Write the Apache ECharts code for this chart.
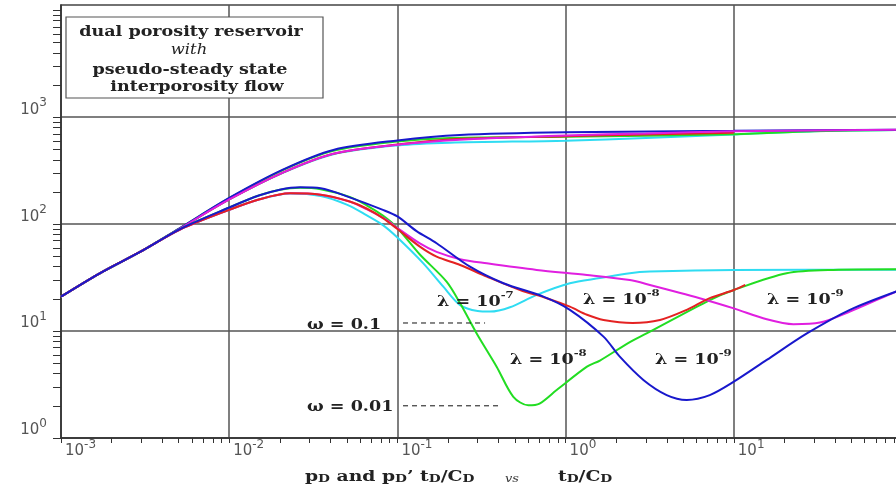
<!DOCTYPE html>
<html>
<head>
<meta charset="utf-8">
<script src="https://cdn.jsdelivr.net/npm/echarts@6/dist/echarts.min.js"></script>
<style>
  html, body { margin: 0; padding: 0; background: #ffffff; }
  #chart { width: 896px; height: 489px; }
</style>
</head>
<body>
<div id="chart"></div>
<script>
// Decade exponents that carry a "10^n" label on each axis
const xLabelExponents = [-3, -2, -1, 0, 1];
const yLabelExponents = [0, 1, 2, 3];
// Decades that get a grid line
const xGridExponents = [-3, -2, -1, 0, 1, 2];
// Decades that receive 2..9 log ticks
const xTickDecades = [-3, -2, -1, 0, 1];
const yTickDecades = [0, 1, 2, 3];

// Type-curve responses, [tD/CD, value] pairs
// omega = 0.1, lambda = 1e-7
const cyanPressure = [[1e-3,21],[1.7e-3,34.7],[2.95e-3,55],[5.1e-3,91],[0.01,170],[0.021,303],[0.0416,450],[0.1,545],[0.205,578],[1,603],[3,640],[10,690],[30,740],[100,760]];
const cyanDerivative = [[1e-3,21],[1.7e-3,34.7],[2.95e-3,55],[5.1e-3,89],[0.01,136],[0.015,170],[0.023,193],[0.035,183],[0.05,152],[0.065,122],[0.082,98],[0.1,75],[0.1426,43],[0.1875,26],[0.236,17.5],[0.3,15.4],[0.355,15.2],[0.467,16.7],[0.673,21.8],[1.06,28],[1.6,31.3],[2.41,34.8],[3.17,36],[10,37.3],[100,37.5]];
// omega = 0.01, lambda = 1e-8
const greenPressure = [[1e-3,21],[1.7e-3,34.7],[2.95e-3,55],[5.1e-3,92],[0.01,175],[0.021,322],[0.0416,485],[0.1,592],[0.205,640],[1,658],[3,672],[10,694],[30,740],[100,762]];
const greenDerivative = [[1e-3,21],[1.7e-3,34.7],[2.95e-3,55],[5.1e-3,90],[0.01,143],[0.015,185],[0.02,210],[0.0264,219],[0.035,212],[0.052,180],[0.0656,150],[0.082,120],[0.1,92],[0.136,52],[0.196,29],[0.236,18.2],[0.296,9.5],[0.389,4.65],[0.489,2.43],[0.6,2.02],[0.7,2.1],[0.885,2.81],[1.34,4.65],[1.6,5.3],[2.41,7.9],[3.03,9.5],[7.2,19.5],[10,24.2],[20.6,34.7],[39,37.3],[100,37.8]];
// omega = 0.1, lambda = 1e-8
const redPressure = [[1e-3,21],[1.7e-3,34.7],[2.95e-3,55],[5.1e-3,91],[0.01,170],[0.021,305],[0.0416,455],[0.1,556],[0.205,620],[1,662],[3,690],[10,715]];
const redDerivative = [[1e-3,21],[1.7e-3,34.7],[2.95e-3,55],[5.1e-3,89],[0.01,136],[0.015,170],[0.023,194],[0.035,188],[0.052,163],[0.0656,140],[0.082,114],[0.1,90],[0.136,61.6],[0.171,49.7],[0.236,41.5],[0.34,32.3],[0.536,24.2],[0.772,20.3],[1.06,16.9],[1.34,14.2],[1.68,12.7],[2.5,11.9],[3.64,12.7],[5.25,15.8],[7.2,20.3],[10,24.2],[11.7,27]];
// omega = 0.01, lambda = 1e-9
const bluePressure = [[1e-3,21],[1.7e-3,34.7],[2.95e-3,55],[5.1e-3,92],[0.01,176],[0.021,325],[0.0416,494],[0.1,606],[0.235,683],[1,724],[10,745],[100,765]];
const blueDerivative = [[1e-3,21],[1.7e-3,34.7],[2.95e-3,55],[5.1e-3,90],[0.01,143],[0.015,185],[0.02,210],[0.0264,221],[0.035,217],[0.052,178],[0.082,136],[0.1,118],[0.13,86],[0.171,66.3],[0.27,40],[0.427,28],[0.738,21],[1.06,15.8],[1.68,8.87],[2.1,5.76],[2.9,3.49],[3.99,2.52],[5.25,2.27],[7.2,2.52],[10,3.36],[15.7,5.37],[27.2,9.5],[49,15.8],[100,24.5]];
// omega = 0.1, lambda = 1e-9
const magentaPressure = [[1e-3,21],[1.7e-3,34.7],[2.95e-3,55],[5.1e-3,91],[0.01,170],[0.021,305],[0.0416,455],[0.1,552],[0.235,615],[1,675],[3,705],[10,738],[100,765]];
const magentaDerivative = [[1e-3,21],[1.7e-3,34.7],[2.95e-3,55],[5.1e-3,89],[0.01,136],[0.015,170],[0.023,194],[0.035,188],[0.052,163],[0.0656,138],[0.0865,109],[0.1,92],[0.136,66],[0.171,55],[0.236,47],[0.34,43],[0.673,37.3],[1.34,33.5],[2.41,30],[3.17,27],[6.27,20.3],[10,16.3],[15.7,12.9],[22.6,11.6],[32.5,12],[49,15.2],[92,23.4],[100,24.5]];

// Storativity-ratio guide marks
const omegaHigh = [[0.108,11.9],[0.332,11.9]];
const omegaLow = [[0.108,2.0],[0.407,2.0]];

const COLORS = {
  cyan: '#2fdcf2',
  green: '#22dd22',
  red: '#e42222',
  blue: '#1818cc',
  magenta: '#e01fe0'
};

function minorTicks(decades) {
  const out = [];
  decades.forEach(function (e) {
    for (let k = 2; k < 10; k++) out.push(k * Math.pow(10, e));
  });
  return out;
}
function powers(exps) { return exps.map(function (e) { return Math.pow(10, e); }); }
function powerLabel(v) {
  const e = Math.round(Math.log10(v));
  return '{b|10}{s|' + e + '}';
}

const labelRich = {
  b: { fontFamily: 'DejaVu Sans', fontSize: 15, color: '#555', lineHeight: 20, verticalAlign: 'bottom' },
  s: { fontFamily: 'DejaVu Sans', fontSize: 12, color: '#555', lineHeight: 12, verticalAlign: 'top' }
};

function curve(data, color) {
  return {
    type: 'line',
    data: data,
    showSymbol: false,
    smooth: 0.3,
    lineStyle: { color: color, width: 2 },
    silent: true
  };
}
function guide(data) {
  return {
    type: 'line',
    data: data,
    showSymbol: false,
    lineStyle: { color: '#111', width: 1, type: [5, 4] },
    silent: true
  };
}

// Annotation text is drawn slightly widened, like the rest of the lettering
const STRETCH = 1.17;
const serif = 'DejaVu Serif';
const annRich = {
  t: { fontFamily: serif, fontSize: 15, fontWeight: 'bold', fill: '#222', lineHeight: 20, verticalAlign: 'bottom' },
  sup: { fontFamily: serif, fontSize: 10, fontWeight: 'bold', fill: '#222', lineHeight: 12, verticalAlign: 'top' },
  sub: { fontFamily: serif, fontSize: 11, fontWeight: 'bold', fill: '#222', lineHeight: 10, verticalAlign: 'bottom' },
  vs: { fontFamily: serif, fontSize: 11, fontStyle: 'italic', fill: '#333', lineHeight: 20, verticalAlign: 'bottom' }
};
function ann(x, y, text, sx) {
  return {
    type: 'text', x: x, y: y, z: 100, scaleX: sx || STRETCH,
    style: { text: text, rich: annRich, align: 'left', verticalAlign: 'middle' }
  };
}
function boxLine(x, y, text, font) {
  return {
    type: 'text', x: x, y: y, z: 100, scaleX: STRETCH,
    style: { text: text, font: font, fill: '#222', align: 'center', verticalAlign: 'middle' }
  };
}

// Hidden overlay axis that only draws the 2..9 log ticks
function minorAxis(base, ticks, len) {
  return Object.assign({}, base, {
    axisLine: { show: false },
    axisLabel: { show: false },
    splitLine: { show: false },
    axisTick: { show: true, length: len, customValues: ticks, lineStyle: { color: '#333', width: 1 } }
  });
}

const xBase = { type: 'log', logBase: 10, min: 1e-3, max: 1e2, position: 'bottom' };
const yBase = { type: 'log', logBase: 10, min: 1, max: 11200, position: 'left' };

const chart = echarts.init(document.getElementById('chart'), null, { renderer: 'canvas' });
chart.setOption({
  animation: false,
  backgroundColor: '#ffffff',
  grid: {
    left: 61, right: -6, top: 5, bottom: 51,
    containLabel: false, outerBoundsMode: 'none',
    show: true, borderColor: '#444', borderWidth: 1.5, backgroundColor: 'transparent'
  },
  xAxis: [
    Object.assign({}, xBase, {
      axisLine: { onZero: false, lineStyle: { color: '#333', width: 1.5 } },
      axisTick: { show: true, length: 5, customValues: powers(xGridExponents), lineStyle: { color: '#333', width: 1 } },
      axisLabel: {
        customValues: powers(xLabelExponents),
        formatter: powerLabel, rich: labelRich,
        align: 'left', margin: 1, padding: [0, 0, 0, 4]
      },
      splitLine: { show: true, lineStyle: { color: '#555', width: 1.5 } }
    }),
    minorAxis(xBase, minorTicks(xTickDecades), 5)
  ],
  yAxis: [
    Object.assign({}, yBase, {
      axisLine: { onZero: false, lineStyle: { color: '#333', width: 1.5 } },
      axisTick: { show: true, length: 8, customValues: powers(yLabelExponents), lineStyle: { color: '#333', width: 1 } },
      axisLabel: {
        customValues: powers(yLabelExponents),
        formatter: powerLabel, rich: labelRich,
        verticalAlign: 'bottom', margin: 14
      },
      splitLine: { show: true, lineStyle: { color: '#555', width: 1.5 } }
    }),
    minorAxis(yBase, minorTicks(yTickDecades).concat([1e4]), 8)
  ],
  series: [
    curve(cyanPressure, COLORS.cyan),
    curve(greenPressure, COLORS.green),
    curve(redPressure, COLORS.red),
    curve(bluePressure, COLORS.blue),
    curve(magentaPressure, COLORS.magenta),
    curve(cyanDerivative, COLORS.cyan),
    curve(greenDerivative, COLORS.green),
    curve(magentaDerivative, COLORS.magenta),
    curve(redDerivative, COLORS.red),
    curve(blueDerivative, COLORS.blue),
    guide(omegaHigh),
    guide(omegaLow)
  ],
  graphic: [
    {
      type: 'rect', z: 90,
      shape: { x: 66, y: 17, width: 257, height: 81 },
      style: { fill: '#ffffff', stroke: '#555', lineWidth: 1.2 }
    },
    boxLine(191, 32, 'dual porosity reservoir', 'bold 15px "DejaVu Serif"'),
    boxLine(189, 50, 'with', 'italic 14px "DejaVu Serif"'),
    boxLine(190, 70, 'pseudo-steady state', 'bold 15px "DejaVu Serif"'),
    boxLine(197, 87, 'interporosity flow', 'bold 15px "DejaVu Serif"'),
    ann(307, 323, '{t|ω = 0.1}'),
    ann(307, 405, '{t|ω = 0.01}'),
    ann(437, 300, '{t|λ = 10}{sup|-7}'),
    ann(583, 298, '{t|λ = 10}{sup|-8}'),
    ann(767, 298, '{t|λ = 10}{sup|-9}'),
    ann(510, 358, '{t|λ = 10}{sup|-8}'),
    ann(655, 358, '{t|λ = 10}{sup|-9}'),
    ann(305, 475, '{t|p}{sub|D}{t| and p}{sub|D}{t|’ t}{sub|D}{t|/C}{sub|D}', 1.25),
    ann(505, 475, '{vs|vs}'),
    ann(558, 475, '{t|t}{sub|D}{t|/C}{sub|D}', 1.25)
  ]
});
</script>
</body>
</html>
